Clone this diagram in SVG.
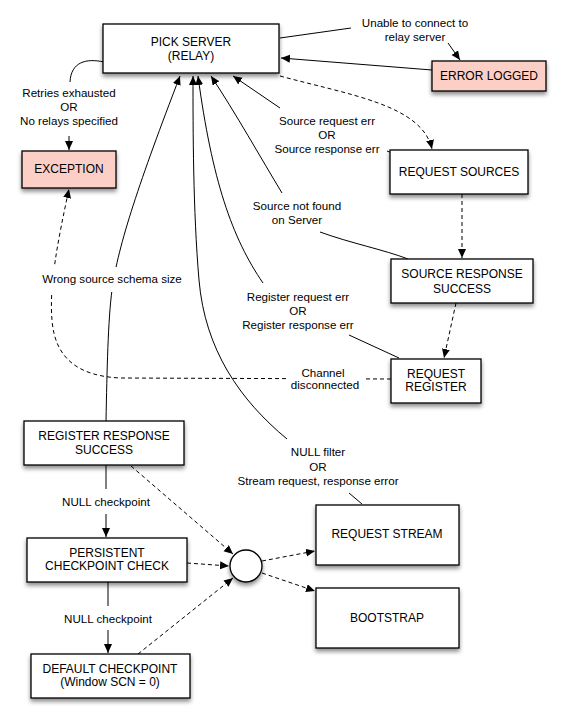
<svg xmlns="http://www.w3.org/2000/svg" width="567" height="722" viewBox="0 0 567 722">
  <style>
    .box { fill: #ffffff; stroke: #000000; stroke-width: 1.3; filter: url(#shadow); }
    .alert { fill: #fccfc6; }
    .node-text { font-family: "Liberation Sans", Arial, sans-serif; font-size: 12px; fill: #000000; text-anchor: middle; }
    .lbl { font-family: "Liberation Sans", Arial, sans-serif; font-size: 11.6px; fill: #000000; text-anchor: middle; }
    .lbg { fill: #ffffff; stroke: none; }
    .line { fill: none; stroke: #000000; stroke-width: 1; }
    .dash { stroke-dasharray: 4 3; }
    .arrow { marker-end: url(#head); }
  </style>
  <defs>
    <filter id="shadow" x="-20%" y="-20%" width="140%" height="160%">
      <feDropShadow dx="0" dy="3" stdDeviation="2" flood-color="#000000" flood-opacity="0.45"/>
    </filter>
    <marker id="head" markerUnits="userSpaceOnUse" markerWidth="10" markerHeight="10" refX="9" refY="4" orient="auto">
      <path d="M0,0 L9,4 L0,8 Z" fill="#000000"/>
    </marker>
  </defs>

  <rect width="567" height="722" fill="#ffffff"/>

  <!-- connectors -->
  <g id="connectors">
    <!-- PICK SERVER to EXCEPTION -->
    <path class="line" d="M104,62 C86,58 71,62 70,82"/>
    <path class="line arrow" d="M69,136 L69,150"/>
    <!-- unable to connect -->
    <path class="line" d="M280,38 L351,28"/>
    <path class="line arrow" d="M448,43 L460,60"/>
    <!-- ERROR LOGGED back to PICK SERVER -->
    <path class="line arrow" d="M432,70 L281,58"/>
    <!-- PICK SERVER to REQUEST SOURCES -->
    <path class="line dash arrow" d="M280,76 C350,95 422,105 432,149"/>
    <!-- source request / response error -->
    <path class="line" d="M397,155 L387,151"/>
    <path class="line arrow" d="M280,108 L233,76"/>
    <!-- source not found -->
    <path class="line" d="M408,259 C385,250 350,243 320,232"/>
    <path class="line arrow" d="M282,193 C262,160 235,112 211,76"/>
    <!-- register request / response error -->
    <path class="line" d="M399,358 L349,335"/>
    <path class="line arrow" d="M263,283 C232,238 212,180 198,76"/>
    <!-- null filter / stream error -->
    <path class="line" d="M362,504 L349,493"/>
    <path class="line arrow" d="M287,439 C240,400 205,350 199,280 S193,130 193,76"/>
    <!-- wrong source schema size -->
    <path class="line arrow" d="M106,421 C107,370 108,320 112,290 C118,245 140,180 180,76"/>
    <!-- channel disconnected -->
    <path class="line dash arrow" d="M391,379 L120,378 C80,376 55,360 52,320 C49,285 58,240 69,189"/>
    <!-- request sources chain -->
    <path class="line dash arrow" d="M462,194 L462,258"/>
    <path class="line dash arrow" d="M456,303 L444,358"/>
    <!-- checkpoint chain -->
    <path class="line" d="M106,465 L106,489"/>
    <path class="line arrow" d="M106,514 L106,537"/>
    <path class="line" d="M108,582 L108,606"/>
    <path class="line arrow" d="M108,630 L108,653"/>
    <!-- into the junction -->
    <path class="line dash arrow" d="M131,466 L233,554"/>
    <path class="line dash arrow" d="M187,563 L229,566"/>
    <path class="line dash arrow" d="M138,654 L233,578"/>
    <!-- out of the junction -->
    <path class="line dash arrow" d="M262,561 L315,551"/>
    <path class="line dash arrow" d="M262,573 L315,591"/>

    <!-- connector labels -->
    <text class="lbl" x="69" y="97">Retries exhausted</text>
    <text class="lbl" x="69" y="111">OR</text>
    <text class="lbl" x="69" y="125">No relays specified</text>

    <text class="lbl" x="415" y="27">Unable to connect to</text>
    <text class="lbl" x="415" y="41">relay server</text>

    <text class="lbl" x="327" y="125">Source request err</text>
    <text class="lbl" x="327" y="139">OR</text>
    <text class="lbl" x="327" y="153">Source response err</text>

    <text class="lbl" x="297" y="210">Source not found</text>
    <text class="lbl" x="297" y="224">on Server</text>

    <text class="lbl" x="298" y="301">Register request err</text>
    <text class="lbl" x="298" y="315">OR</text>
    <text class="lbl" x="298" y="329">Register response err</text>

    <rect class="lbg" x="38" y="267" width="149" height="25"/>
    <text class="lbl" x="112" y="283">Wrong source schema size</text>

    <rect class="lbg" x="287" y="364" width="76" height="28"/>
    <text class="lbl" x="323" y="377">Channel</text>
    <text class="lbl" x="325" y="389">disconnected</text>

    <text class="lbl" x="318" y="456">NULL filter</text>
    <text class="lbl" x="318" y="471">OR</text>
    <text class="lbl" x="318" y="485">Stream request, response error</text>

    <text class="lbl" x="106" y="506">NULL checkpoint</text>
    <text class="lbl" x="108" y="623">NULL checkpoint</text>
  </g>

  <!-- nodes -->
  <g id="pick-server">
    <rect class="box" x="103" y="24" width="176" height="49"/>
    <text class="node-text" x="191" y="46">PICK SERVER</text>
    <text class="node-text" x="191" y="60">(RELAY)</text>
  </g>
  <g id="error-logged">
    <rect class="box alert" x="432" y="61" width="114" height="30"/>
    <text class="node-text" x="489" y="80">ERROR LOGGED</text>
  </g>
  <g id="exception">
    <rect class="box alert" x="22" y="151" width="94" height="37"/>
    <text class="node-text" x="69" y="173">EXCEPTION</text>
  </g>
  <g id="request-sources">
    <rect class="box" x="390" y="150" width="138" height="44"/>
    <text class="node-text" x="459" y="176">REQUEST SOURCES</text>
  </g>
  <g id="source-response-success">
    <rect class="box" x="391" y="259" width="142" height="44"/>
    <text class="node-text" x="462" y="278">SOURCE RESPONSE</text>
    <text class="node-text" x="462" y="293">SUCCESS</text>
  </g>
  <g id="request-register">
    <rect class="box" x="391" y="359" width="90" height="44"/>
    <text class="node-text" x="436" y="378">REQUEST</text>
    <text class="node-text" x="436" y="391">REGISTER</text>
  </g>
  <g id="register-response-success">
    <rect class="box" x="24" y="421" width="160" height="44"/>
    <text class="node-text" x="104" y="440">REGISTER RESPONSE</text>
    <text class="node-text" x="104" y="454">SUCCESS</text>
  </g>
  <g id="persistent-checkpoint-check">
    <rect class="box" x="27" y="538" width="160" height="44"/>
    <text class="node-text" x="107" y="557">PERSISTENT</text>
    <text class="node-text" x="107" y="570">CHECKPOINT CHECK</text>
  </g>
  <g id="default-checkpoint">
    <rect class="box" x="31" y="654" width="159" height="44"/>
    <text class="node-text" x="110" y="673">DEFAULT CHECKPOINT</text>
    <text class="node-text" x="110" y="686">(Window SCN = 0)</text>
  </g>
  <g id="junction">
    <circle class="box" cx="246" cy="566" r="16"/>
  </g>
  <g id="request-stream">
    <rect class="box" x="316" y="505" width="143" height="60"/>
    <text class="node-text" x="387" y="538">REQUEST STREAM</text>
  </g>
  <g id="bootstrap">
    <rect class="box" x="316" y="588" width="143" height="60"/>
    <text class="node-text" x="387" y="622">BOOTSTRAP</text>
  </g>
</svg>
